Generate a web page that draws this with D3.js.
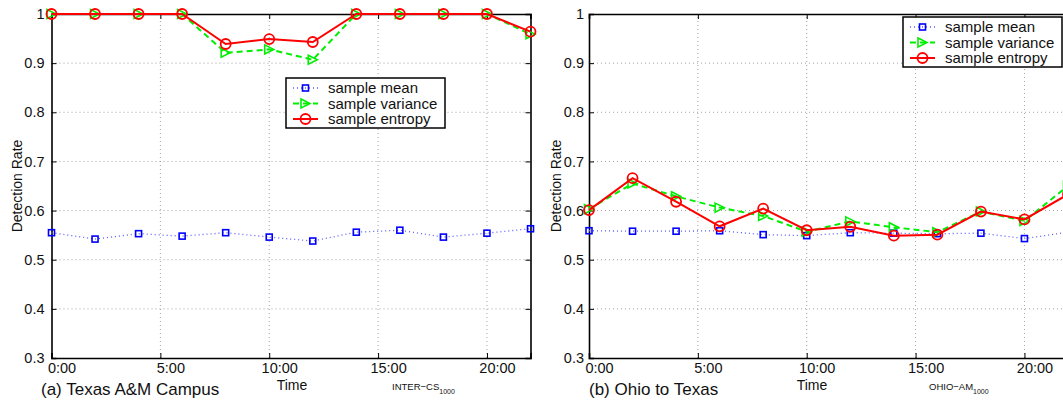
<!DOCTYPE html>
<html>
<head>
<meta charset="utf-8">
<script src="https://cdn.jsdelivr.net/npm/d3@7"></script>
<style>
  body { margin: 0; background: #fff; }
  svg { display: block; font-family: "Liberation Sans", Arial, Helvetica, sans-serif; }
</style>
</head>
<body>
<svg id="chart" width="1063" height="403"></svg>
<script>
// hours of the day at which each sample was taken
var hours = [0, 2, 4, 6, 8, 10, 12, 14, 16, 18, 20, 22];
var xTicks = [0, 5, 10, 15, 20];
var xTickLabels = ["0:00", "5:00", "10:00", "15:00", "20:00"];
var yTicks = [0.3, 0.4, 0.5, 0.6, 0.7, 0.8, 0.9, 1];

var seriesNames = ["sample mean", "sample variance", "sample entropy"];

// (a) Texas A&M Campus
var campusMean     = [0.555, 0.542, 0.553, 0.548, 0.555, 0.546, 0.538, 0.556, 0.560, 0.546, 0.554, 0.563];
var campusVariance = [1, 1, 1, 1, 0.921, 0.928, 0.907, 1, 1, 1, 1, 0.959];
var campusEntropy  = [1, 1, 1, 1, 0.939, 0.949, 0.943, 1, 1, 1, 1, 0.964];

// (b) Ohio to Texas
var ohioMean     = [0.559, 0.558, 0.558, 0.559, 0.551, 0.549, 0.555, 0.554, 0.553, 0.554, 0.543, 0.556];
var ohioVariance = [0.603, 0.655, 0.629, 0.606, 0.589, 0.557, 0.578, 0.566, 0.556, 0.598, 0.579, 0.650];
var ohioEntropy  = [0.601, 0.666, 0.618, 0.568, 0.604, 0.560, 0.567, 0.549, 0.551, 0.598, 0.582, 0.633];

var svg = d3.select("#chart");

var styles = [
  { color: "#0000ff", lineColor: "#5c5cff", width: 1.3, dash: "1,3", marker: "square" },
  { color: "#00ee00", lineColor: "#00ee00", width: 2, dash: "6,4", marker: "triangle" },
  { color: "#ff0000", lineColor: "#ff0000", width: 2, dash: null, marker: "circle" }
];

function drawMarker(g, type, cx, cy, color) {
  if (type == "square") {
    g.append("rect")
      .attr("x", cx - 3).attr("y", cy - 3)
      .attr("width", 6).attr("height", 6)
      .attr("fill", "none").attr("stroke", color).attr("stroke-width", 1.6);
  } else if (type == "triangle") {
    g.append("path")
      .attr("d", "M" + (cx - 4.5) + "," + (cy - 4.5) + "L" + (cx + 4.5) + "," + cy + "L" + (cx - 4.5) + "," + (cy + 4.5) + "Z")
      .attr("fill", "none").attr("stroke", color).attr("stroke-width", 1.6);
  } else {
    g.append("circle")
      .attr("cx", cx).attr("cy", cy).attr("r", 5)
      .attr("fill", "none").attr("stroke", color).attr("stroke-width", 1.8);
  }
}

function drawPanel(p) {
  var x = d3.scaleLinear().domain([0, 22]).range([p.left, p.right]);
  var y = d3.scaleLinear().domain([0.3, 1]).range([358, 14]);

  var g = svg.append("g");

  // dotted grid
  g.selectAll(".gx").data(xTicks.slice(1))
    .enter().append("line")
      .attr("x1", function(d) { return x(d); }).attr("x2", function(d) { return x(d); })
      .attr("y1", y(0.3)).attr("y2", y(1))
      .attr("stroke", "#8a8a8a").attr("stroke-width", 0.8).attr("stroke-dasharray", "1,3");
  g.selectAll(".gy").data(yTicks.slice(1, -1))
    .enter().append("line")
      .attr("x1", p.left).attr("x2", p.right)
      .attr("y1", function(d) { return y(d); }).attr("y2", function(d) { return y(d); })
      .attr("stroke", "#8a8a8a").attr("stroke-width", 0.8).attr("stroke-dasharray", "1,3");

  // axes, ticks pointing inward
  var xb = g.append("g")
      .attr("transform", "translate(0," + y(0.3) + ")")
      .call(d3.axisBottom(x).tickValues(xTicks).tickSize(-5).tickPadding(5)
        .tickFormat(function(d, i) { return xTickLabels[i]; }));
  xb.selectAll("text").attr("dx", 10);
  g.append("g")
      .attr("transform", "translate(0," + y(1) + ")")
      .call(d3.axisTop(x).tickValues(xTicks).tickSize(-5).tickFormat(""));
  g.append("g")
      .attr("transform", "translate(" + p.left + ",0)")
      .call(d3.axisLeft(y).tickValues(yTicks).tickSize(-5).tickPadding(p.yPad)
        .tickFormat(function(d) { return d == 1 ? "1" : d.toFixed(1); }));
  g.append("g")
      .attr("transform", "translate(" + p.right + ",0)")
      .call(d3.axisRight(y).tickValues(yTicks).tickSize(-5).tickFormat(""));

  g.selectAll(".domain").attr("stroke", "#000").attr("stroke-width", 1.6);
  g.selectAll(".tick line").attr("stroke", "#000").attr("stroke-width", 1);
  g.selectAll(".tick text").attr("font-size", 14.5).attr("fill", "#111")
    .style("font-family", "'Liberation Sans', Arial, sans-serif");

  // series
  p.series.forEach(function(values, i) {
    var s = styles[i];
    var pts = hours.map(function(h, j) { return [x(h), y(values[j])]; });
    var line = g.append("path")
      .attr("d", d3.line()(pts))
      .attr("fill", "none")
      .attr("stroke", s.lineColor)
      .attr("stroke-width", s.width);
    if (s.dash) line.attr("stroke-dasharray", s.dash);
    var mg = g.append("g");
    pts.forEach(function(pt) { drawMarker(mg, s.marker, pt[0], pt[1], s.color); });
  });

  // legend
  var lg = g.append("g");
  lg.append("rect")
    .attr("x", p.legX).attr("y", p.legY)
    .attr("width", 159).attr("height", 50)
    .attr("fill", "#fff").attr("stroke", "#000").attr("stroke-width", 1.5);
  seriesNames.forEach(function(name, i) {
    var s = styles[i];
    var ly = p.legY + 10 + i * 15.5;
    var ln = lg.append("line")
      .attr("x1", p.legX + 7).attr("x2", p.legX + 32)
      .attr("y1", ly).attr("y2", ly)
      .attr("stroke", s.lineColor).attr("stroke-width", s.width);
    if (s.dash) ln.attr("stroke-dasharray", s.dash);
    drawMarker(lg, s.marker, p.legX + 19.5, ly, s.color);
    lg.append("text")
      .attr("x", p.legX + 42).attr("y", ly + 5)
      .attr("font-size", 15).attr("fill", "#111")
      .text(name);
  });

  // labels
  g.append("text")
    .attr("transform", "translate(" + p.yLabelX + "," + ((y(0.3) + y(1)) / 2) + ") rotate(-90)")
    .attr("text-anchor", "middle")
    .attr("font-size", 14).attr("fill", "#111")
    .text("Detection Rate");
  g.append("text")
    .attr("x", p.timeX).attr("y", 389.5)
    .attr("text-anchor", "middle")
    .attr("font-size", 14).attr("fill", "#111")
    .text("Time");
  g.append("text")
    .attr("x", p.captionX).attr("y", 395)
    .attr("font-size", 17).attr("fill", "#111")
    .text(p.caption);
  var t = g.append("text")
    .attr("x", p.tagX).attr("y", 390)
    .attr("font-size", 9.5).attr("fill", "#111");
  t.append("tspan").text(p.tag);
  t.append("tspan").attr("font-size", 7).attr("dy", 4).text("1000");
}

drawPanel({
  left: 51.5, right: 530.5, yPad: 7,
  series: [campusMean, campusVariance, campusEntropy],
  legX: 286, legY: 78,
  yLabelX: 21.5, timeX: 292, captionX: 41,
  caption: "(a) Texas A&M Campus", tag: "INTER\u2212CS", tagX: 392
});

drawPanel({
  left: 589, right: 1068, yPad: 5,
  series: [ohioMean, ohioVariance, ohioEntropy],
  legX: 903, legY: 17,
  yLabelX: 560.5, timeX: 812, captionX: 589,
  caption: "(b) Ohio to Texas", tag: "OHIO\u2212AM", tagX: 929
});
</script>
</body>
</html>
